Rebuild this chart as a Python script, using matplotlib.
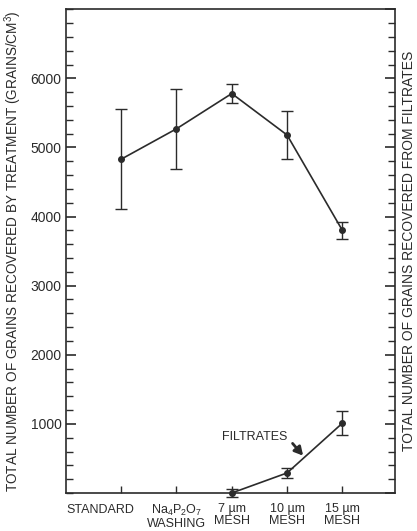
import matplotlib
matplotlib.use("Agg")
import matplotlib.pyplot as plt
from matplotlib.ticker import MultipleLocator

plt.rcParams['font.family'] = ['Liberation Sans', 'DejaVu Sans']
plt.rcParams['mathtext.fontset'] = 'custom'
plt.rcParams['mathtext.rm'] = 'Liberation Sans'
plt.rcParams['mathtext.it'] = 'Liberation Sans'

# Data
categories = ["STANDARD", "Na$_4$P$_2$O$_7$\nWASHING", "7 \u00b5m\nMESH", "10 \u00b5m\nMESH", "15 \u00b5m\nMESH"]
treatment_mean = [4830, 5270, 5780, 5180, 3800]
treatment_err = [720, 580, 140, 350, 120]

filtrate_cats = [3, 4, 5]
filtrate_mean = [0, 290, 1010]
filtrate_err = [60, 70, 170]

ink = "#2b2b2b"

fig = plt.figure(figsize=(4.17, 5.31), dpi=100)
ax = fig.add_axes([0.158, 0.0716, 0.789, 0.911])

x = list(range(1, len(categories) + 1))
ax.errorbar(x, treatment_mean, yerr=treatment_err, color=ink, lw=1.2,
            marker='o', ms=4, capsize=4, elinewidth=1.0, capthick=1.0)

ax.set_xlim(0, 5.95)
ax.set_ylim(0, 7000)
ax.set_xticks(x)
# STANDARD sits left of its tick in the reference, so it is placed by hand
ax.set_xticklabels([""] + categories[1:], fontsize=9, color=ink, linespacing=1.0)
ax.annotate(categories[0], xy=(x[0], 0), xycoords=ax.get_xaxis_transform(),
            xytext=(-15, -8), textcoords='offset points',
            ha='center', va='top', fontsize=9, color=ink)
ax.yaxis.set_major_locator(MultipleLocator(1000))
ax.yaxis.set_minor_locator(MultipleLocator(200))
ax.set_yticks([1000, 2000, 3000, 4000, 5000, 6000])
ax.tick_params(axis='y', which='major', direction='in', length=7, width=1.2,
               labelsize=10, labelcolor=ink, color=ink, pad=3)
ax.tick_params(axis='y', which='minor', direction='in', length=5, width=1.0, color=ink)
ax.tick_params(axis='x', direction='in', length=5, width=1.0, color=ink, pad=7)
ax.set_ylabel("TOTAL NUMBER OF GRAINS RECOVERED BY TREATMENT (GRAINS/CM$^3$)",
              fontsize=9.8, color=ink, labelpad=5)
for s in ax.spines.values():
    s.set_color(ink)
    s.set_linewidth(1.2)

# filtrates on the right-hand axis (unlabelled scale)
ax2 = ax.twinx()
ax2.set_ylim(0, 7000)
ax2.errorbar(filtrate_cats, filtrate_mean, yerr=filtrate_err, color=ink, lw=1.2,
             marker='o', ms=4, capsize=4, elinewidth=1.0, capthick=1.0, clip_on=False)
ax2.yaxis.set_major_locator(MultipleLocator(1000))
ax2.yaxis.set_minor_locator(MultipleLocator(200))
ax2.tick_params(axis='y', which='major', direction='in', length=7, width=1.2,
                labelright=False, color=ink)
ax2.tick_params(axis='y', which='minor', direction='in', length=5, width=1.0, color=ink)
ax2.set_ylabel("TOTAL NUMBER OF GRAINS RECOVERED FROM FILTRATES",
               fontsize=10, color=ink, labelpad=2)
for s in ax2.spines.values():
    s.set_visible(False)

ax2.annotate("FILTRATES", xy=(4.29, 540), xytext=(4.0, 810),
             ha='right', va='center', fontsize=9, color=ink,
             arrowprops=dict(arrowstyle='-|>,head_width=0.3,head_length=0.55',
                             color=ink, lw=2.0, relpos=(1.0, 0.5),
                             shrinkA=3, shrinkB=0))

fig.savefig("out.png", dpi=100)
